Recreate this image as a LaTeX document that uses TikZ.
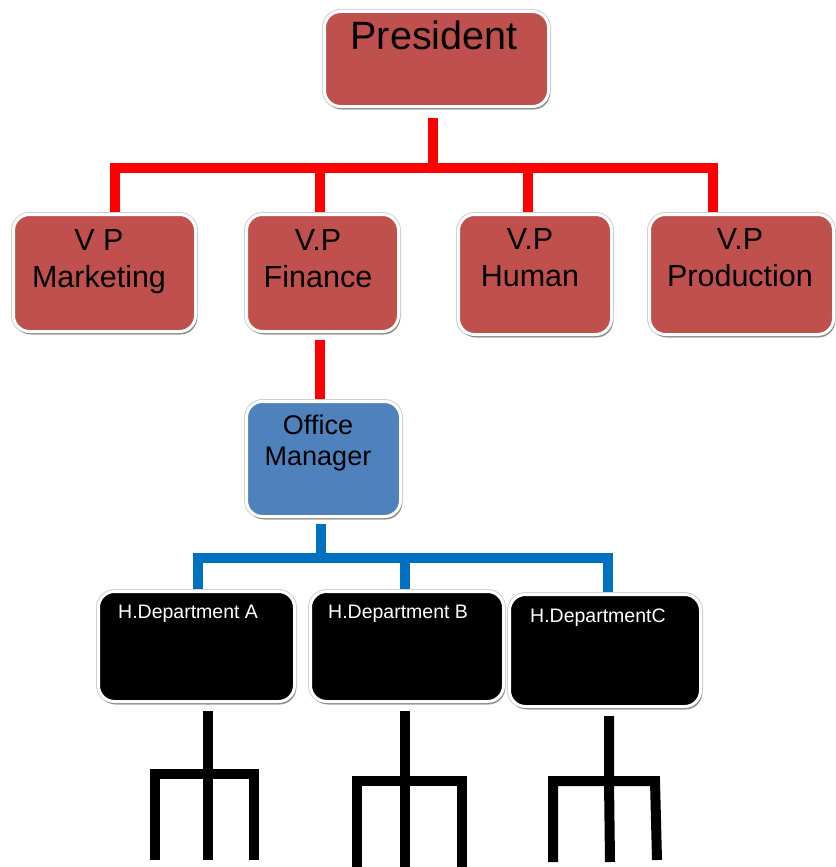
\documentclass[tikz,border=0pt]{standalone}
\usepackage{fontspec}
\setmainfont{Liberation Sans}
\usetikzlibrary{shadows,backgrounds}

\definecolor{boxred}{HTML}{C0504D}
\definecolor{boxblue}{HTML}{4F81BD}
\definecolor{lineblue}{HTML}{0070C0}
\definecolor{linered}{HTML}{FF0000}

\tikzset{
  orgbox/.style={rectangle, rounded corners=16pt, inner sep=0pt,
    draw=white, line width=3pt,
    preaction={draw=black!18, line width=5pt},
    drop shadow={shadow xshift=1.5pt, shadow yshift=-3pt, opacity=0.35, fill=black}},
  redbox/.style={orgbox, fill=boxred},
  bluebox/.style={orgbox, fill=boxblue},
  blackbox/.style={orgbox, fill=black},
  redline/.style={draw=linered, line width=10pt, line join=miter},
  blueline/.style={draw=lineblue, line width=10pt, line join=miter},
  forkline/.style={draw=black, line width=10pt, line join=miter},
  bigtext/.style={inner sep=0pt, font=\fontsize{39.5}{46}\selectfont},
  vptext/.style={inner sep=0pt, align=center, anchor=north, font=\fontsize{30.5}{37}\selectfont},
  omtext/.style={inner sep=0pt, align=center, anchor=north, font=\fontsize{27}{31}\selectfont},
  deptext/.style={inner sep=0pt, anchor=base west, text=white, font=\fontsize{19.5}{23}\selectfont}
}

\begin{document}
\begin{tikzpicture}[x=1pt, y=-1pt]
\useasboundingbox (0,0) rectangle (835,867);

% boxes
\node[redbox, minimum width=224pt, minimum height=95pt] (pres) at (436.5,59) {};
\node[redbox, minimum width=182pt, minimum height=117pt] (vpm) at (104.5,273) {};
\node[redbox, minimum width=152pt, minimum height=117pt] (vpf) at (322.5,273) {};
\node[redbox, minimum width=153pt, minimum height=120pt] (vph) at (535,274.5) {};
\node[redbox, minimum width=184pt, minimum height=120pt] (vpp) at (741.5,274.5) {};
\node[bluebox, minimum width=154pt, minimum height=115pt] (om) at (323.5,459) {};
\node[blackbox, minimum width=196pt, minimum height=110pt] (hda) at (196.5,646.5) {};
\node[blackbox, minimum width=193pt, minimum height=110pt] (hdb) at (407,646.5) {};
\node[blackbox, minimum width=191pt, minimum height=112pt] (hdc) at (605,650.5) {};

% labels
\node[bigtext, anchor=base] (pres-t) at (434,50) {President};
\node[vptext] (vpm-t) at (99,229.5) {V P\\Marketing};
\node[vptext] (vpf-t) at (318,229.5) {V.P\\Finance};
\node[vptext] (vph-t) at (530,228.5) {V.P\\Human};
\node[vptext] (vpp-t) at (740,228.5) {V.P\\Production};
\node[omtext] (om-t) at (318,414.5) {Office\\Manager};
\node[deptext] (hda-t) at (118,618) {H.Department A};
\node[deptext] (hdb-t) at (328,618) {H.Department B};
\node[deptext] (hdc-t) at (530,622) {H.DepartmentC};

% bus levels and drop points
\coordinate (rpres) at (433,168);
\coordinate (rmkt)  at (115,168);
\coordinate (rfin)  at (320,168);
\coordinate (rhum)  at (528,168);
\coordinate (rprod) at (713,168);

\coordinate (bstem) at (320.5,558);
\coordinate (bda)   at (198,558);
\coordinate (bdb)   at (405,558);
\coordinate (bdc)   at (608,558);

% fork joints and tine ends
\coordinate (fa) at (208,774);  \coordinate (fal) at (155,774); \coordinate (far) at (254,774);
\coordinate (fb) at (405,781);  \coordinate (fbl) at (357,781); \coordinate (fbr) at (462,781);
\coordinate (fc) at (609,781);  \coordinate (fcl) at (553,781); \coordinate (fcr) at (655,781);
\coordinate (fab) at (208,860); \coordinate (falb) at (155,860); \coordinate (farb) at (254,860);
\coordinate (fbb) at (405,872); \coordinate (fblb) at (357,872); \coordinate (fbrb) at (462,872);
\coordinate (fcb) at (610,862); \coordinate (fclb) at (553,862); \coordinate (fcrb) at (657,860);

\begin{scope}[on background layer]
  % red connectors
  \draw[redline, shorten <=10pt] (rpres |- pres.south) -- (rpres);
  \draw[redline] (rmkt |- vpm.north) -- (rmkt) -- (rprod) -- (rprod |- vpp.north);
  \draw[redline] (rfin) -- (rfin |- vpf.north);
  \draw[redline] (rhum) -- (rhum |- vph.north);
  \draw[redline, shorten <=7pt] (rfin |- vpf.south) -- (rfin |- om.north);

  % blue connectors
  \draw[blueline, shorten <=6pt] (bstem |- om.south) -- (bstem);
  \draw[blueline] (bda |- hda.north) -- (bda) -- (bdc) -- (bdc |- hdc.north);
  \draw[blueline] (bdb) -- (bdb |- hdb.north);

  % forks under the department heads
  \draw[forkline, shorten <=8pt] (fa |- hda.south) -- (fa) -- (fab);
  \draw[forkline] (falb) -- (fal) -- (far) -- (farb);
  \draw[forkline, shorten <=8pt] (fb |- hdb.south) -- (fb) -- (fbb);
  \draw[forkline] (fblb) -- (fbl) -- (fbr) -- (fbrb);
  \draw[forkline, shorten <=8pt] (fc |- hdc.south) -- (fc) -- (fcb);
  \draw[forkline] (fclb) -- (fcl) -- (fcr) -- (fcrb);
\end{scope}
\end{tikzpicture}
\end{document}
